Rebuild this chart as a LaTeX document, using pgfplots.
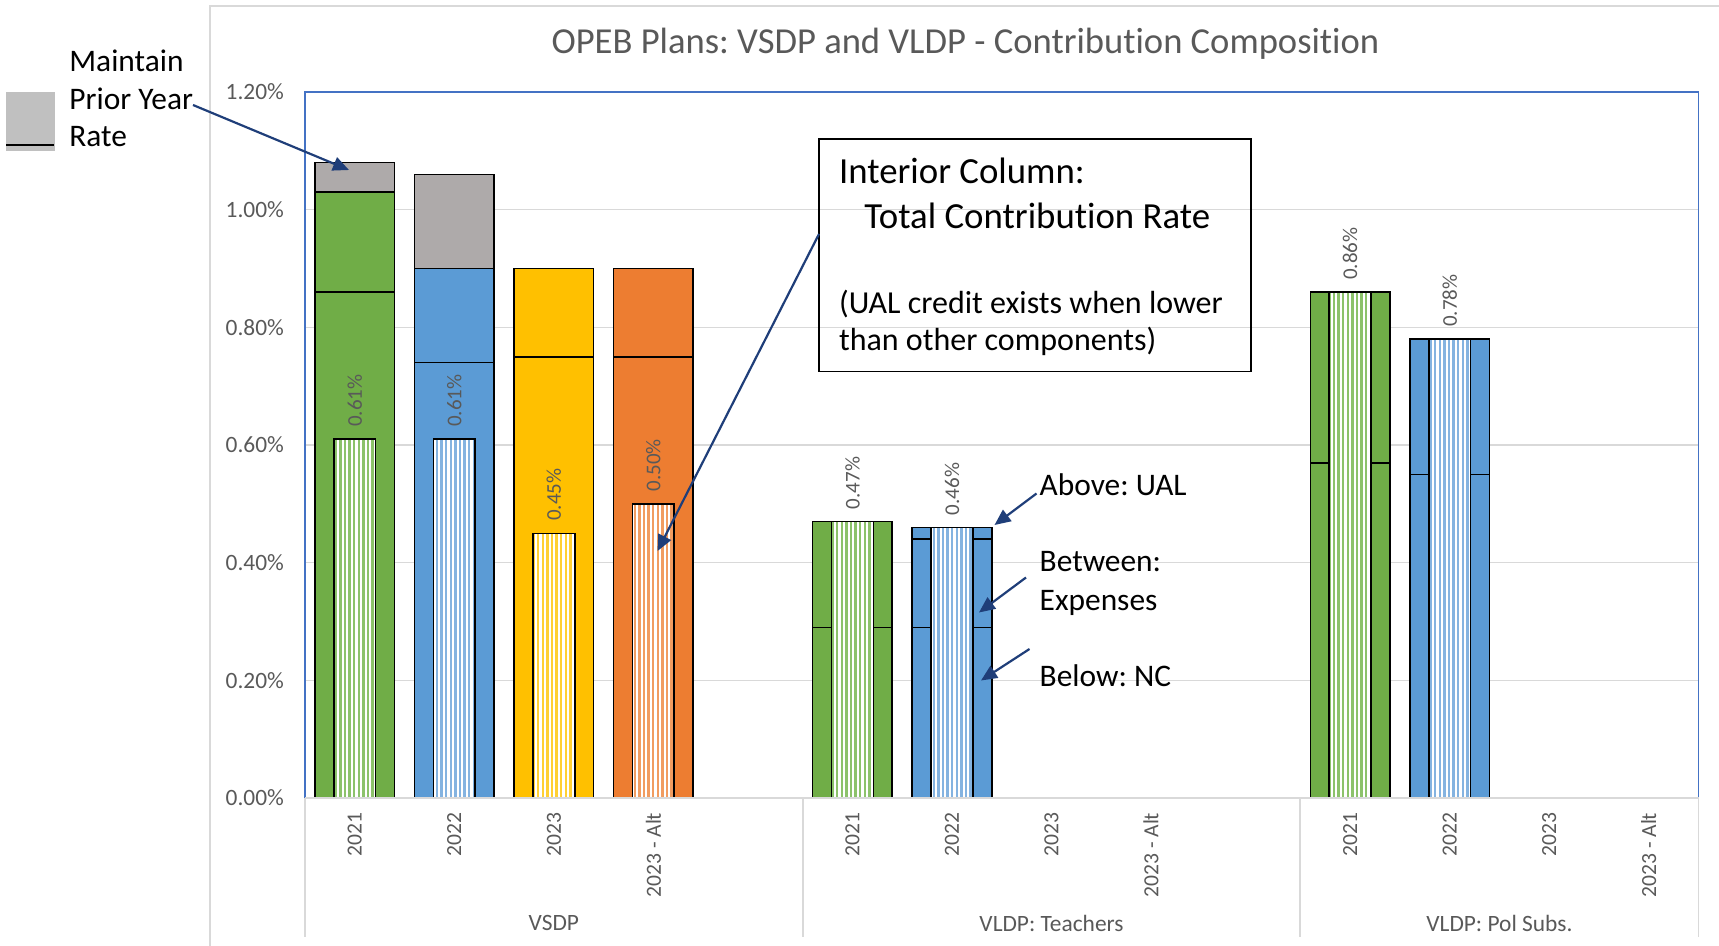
\documentclass[border=0pt]{standalone}
\usepackage{pgfplots}
\pgfplotsset{compat=1.18}
\usepackage{fontspec}
\setmainfont{Carlito}[Ligatures={NoCommon}]
\frenchspacing
\usetikzlibrary{patterns.meta,arrows.meta}
\definecolor{cgreen}{HTML}{70AD47}
\definecolor{cblue}{HTML}{5B9BD5}
\definecolor{cyellow}{HTML}{FFC000}
\definecolor{corange}{HTML}{ED7D31}
\definecolor{cgray}{HTML}{AEAAAA}
\definecolor{lgray}{HTML}{C0C0C0}
\definecolor{lgreen}{HTML}{8CC26A}
\definecolor{lblue}{HTML}{84B3E0}
\definecolor{lyellow}{HTML}{FFD033}
\definecolor{lorange}{HTML}{F19C60}
\definecolor{textgray}{HTML}{595959}
\definecolor{gridgray}{HTML}{D9D9D9}
\definecolor{plotblue}{HTML}{4472C4}
\definecolor{arrowblue}{HTML}{1F3E79}
\pgfplotsset{
  outer/.style={ybar, bar width=0.8, bar shift=0, draw=black, line width=0.8pt},
  inner/.style={ybar, bar width=0.42, bar shift=0, draw=black, line width=0.8pt, fill=white,
     postaction={pattern color=#1, pattern={Lines[angle=90,distance=2.3pt,line width=1.25pt]}}},
  lbl/.style={draw=none, mark=none, nodes near coords={\pgfmathprintnumber[fixed,fixed zerofill,precision=2]{\pgfplotspointmeta}\%},
     every node near coord/.append style={rotate=90, anchor=west, inner xsep=6pt, font=\fontsize{10.5}{12}\selectfont, text=textgray}},
}
\begin{document}
\begin{tikzpicture}
\useasboundingbox (0,0) rectangle (859.5pt,-473pt);
\draw[gridgray, line width=0.9pt] (105pt,-473pt) -- (105pt,-3pt) -- (860pt,-3pt);
\begin{axis}[
  at={(152.5pt,-399.05pt)}, anchor=south west,
  width=696.75pt, height=353.05pt, scale only axis,
  xmin=-0.5, xmax=13.5, ymin=0, ymax=1.2,
  ytick={0,0.2,0.4,0.6,0.8,1.0,1.2},
  /pgf/number format/assume math mode=true,
  yticklabel={\pgfmathprintnumber[fixed,fixed zerofill,precision=2]{\tick}\%},
  yticklabel style={font=\fontsize{11.7}{13}\selectfont, text=textgray, xshift=-7pt},
  xtick={0,1,2,3,5,6,7,8,10,11,12,13},
  xticklabels={2021,2022,2023,2023 - Alt,2021,2022,2023,2023 - Alt,2021,2022,2023,2023 - Alt},
  xticklabel style={rotate=90, anchor=east, font=\fontsize{10.8}{12}\selectfont, text=textgray, xshift=-3.8pt},
  major tick length=0pt, tick style={draw=none},
  ymajorgrids, grid style={draw=gridgray, line width=0.7pt},
  axis line style={draw=plotblue, line width=0.8pt},
  clip=false,
]
% Maintain prior year rate (gray, top)
\addplot[outer, fill=cgray] coordinates {(0,1.08) (1,1.06)};
% Total outer bars (expenses + UAL)
\addplot[outer, fill=cgreen] coordinates {(0,1.03) (5,0.47) (10,0.86)};
\addplot[outer, fill=cblue] coordinates {(1,0.90) (6,0.46) (11,0.78)};
\addplot[outer, fill=cyellow] coordinates {(2,0.90)};
\addplot[outer, fill=corange] coordinates {(3,0.90)};
% expenses top where UAL separate
\addplot[outer, fill=cblue] coordinates {(6,0.44)};
% Normal cost
\addplot[outer, fill=cgreen] coordinates {(0,0.86) (5,0.29) (10,0.57)};
\addplot[outer, fill=cblue] coordinates {(1,0.74) (6,0.29) (11,0.55)};
\addplot[outer, fill=cyellow] coordinates {(2,0.75)};
\addplot[outer, fill=corange] coordinates {(3,0.75)};
% Interior column: total contribution rate
\addplot[inner=lgreen] coordinates {(0,0.61) (5,0.47) (10,0.86)};
\addplot[inner=lblue] coordinates {(1,0.61) (6,0.46) (11,0.78)};
\addplot[inner=lyellow] coordinates {(2,0.45)};
\addplot[inner=lorange] coordinates {(3,0.50)};
% data labels
\addplot[lbl] coordinates {(0,0.61) (1,0.61) (2,0.45) (3,0.50) (5,0.47) (6,0.46) (10,0.86) (11,0.78)};
% bottom axis line and group separators
\draw[gridgray, line width=0.9pt] (axis cs:-0.5,0) -- (axis cs:13.5,0);
\draw[gridgray, line width=0.9pt] (axis cs:-0.5,0) -- ++(0pt,-69.5pt);
\draw[gridgray, line width=0.9pt] (axis cs:4.5,0) -- ++(0pt,-69.5pt);
\draw[gridgray, line width=0.9pt] (axis cs:9.5,0) -- ++(0pt,-69.5pt);
\draw[gridgray, line width=0.9pt] (axis cs:13.5,0) -- ++(0pt,-69.5pt);
\node[font=\fontsize{11.7}{13}\selectfont, text=textgray, yshift=-62.5pt] at (axis cs:2,0) {VSDP};
\node[font=\fontsize{11.7}{13}\selectfont, text=textgray, yshift=-62.5pt] at (axis cs:7,0) {VLDP: Teachers};
\node[font=\fontsize{11.7}{13}\selectfont, text=textgray, yshift=-62.5pt] at (axis cs:11.5,0) {VLDP: Pol Subs.};
\end{axis}
\begin{scope}[x=0.5pt,y=-0.5pt]
% title
\node[font=\fontsize{18.3}{22}\selectfont, text=textgray] at (965.5,43.9) {OPEB Plans: VSDP and VLDP - Contribution Composition};
% legend-like key
\fill[lgray] (6,92) rectangle (55,151);
\draw[black, line width=1.3pt] (6,145) -- (54,145);
\node[anchor=base west, inner sep=0pt, font=\fontsize{15.7}{18}\selectfont] at (69,72) {Maintain};
\node[anchor=base west, inner sep=0pt, font=\fontsize{15.7}{18}\selectfont] at (69,110) {Prior Year};
\node[anchor=base west, inner sep=0pt, font=\fontsize{15.7}{18}\selectfont] at (69,147) {Rate};
\draw[arrowblue, line width=1.1pt, -{Triangle[length=8pt,width=7pt]}] (193,105) -- (349,170);
% text box
\draw[black, line width=0.9pt] (819,139.2) rectangle (1251,371.6);
\node[anchor=base west, inner sep=0pt, font=\fontsize{18.4}{22}\selectfont] at (838.7,184) {Interior Column:};
\node[anchor=base west, inner sep=0pt, font=\fontsize{18.4}{22}\selectfont] at (863.9,228.5) {Total Contribution Rate};
\node[anchor=base west, inner sep=0pt, font=\fontsize{16}{19}\selectfont] at (838.7,314) {(UAL credit exists when lower};
\node[anchor=base west, inner sep=0pt, font=\fontsize{16}{19}\selectfont] at (838.7,351) {than other components)};
\draw[arrowblue, line width=1.1pt, -{Triangle[length=8pt,width=7pt]}] (819,234) -- (657.5,551);
% callouts
\node[anchor=base west, inner sep=0pt, font=\fontsize{15.7}{18}\selectfont] at (1039.3,495.5) {Above: UAL};
\node[anchor=base west, inner sep=0pt, font=\fontsize{15.7}{18}\selectfont] at (1039.3,571.5) {Between:};
\node[anchor=base west, inner sep=0pt, font=\fontsize{15.7}{18}\selectfont] at (1039.3,610) {Expenses};
\node[anchor=base west, inner sep=0pt, font=\fontsize{15.7}{18}\selectfont] at (1039.3,686.5) {Below: NC};
\draw[arrowblue, line width=1.1pt, -{Triangle[length=8pt,width=7pt]}] (1036.5,493.5) -- (994.5,525);
\draw[arrowblue, line width=1.1pt, -{Triangle[length=8pt,width=7pt]}] (1026,577.5) -- (979,612.5);
\draw[arrowblue, line width=1.1pt, -{Triangle[length=8pt,width=7pt]}] (1029.5,649) -- (981,680.5);
\end{scope}
\end{tikzpicture}
\end{document}
